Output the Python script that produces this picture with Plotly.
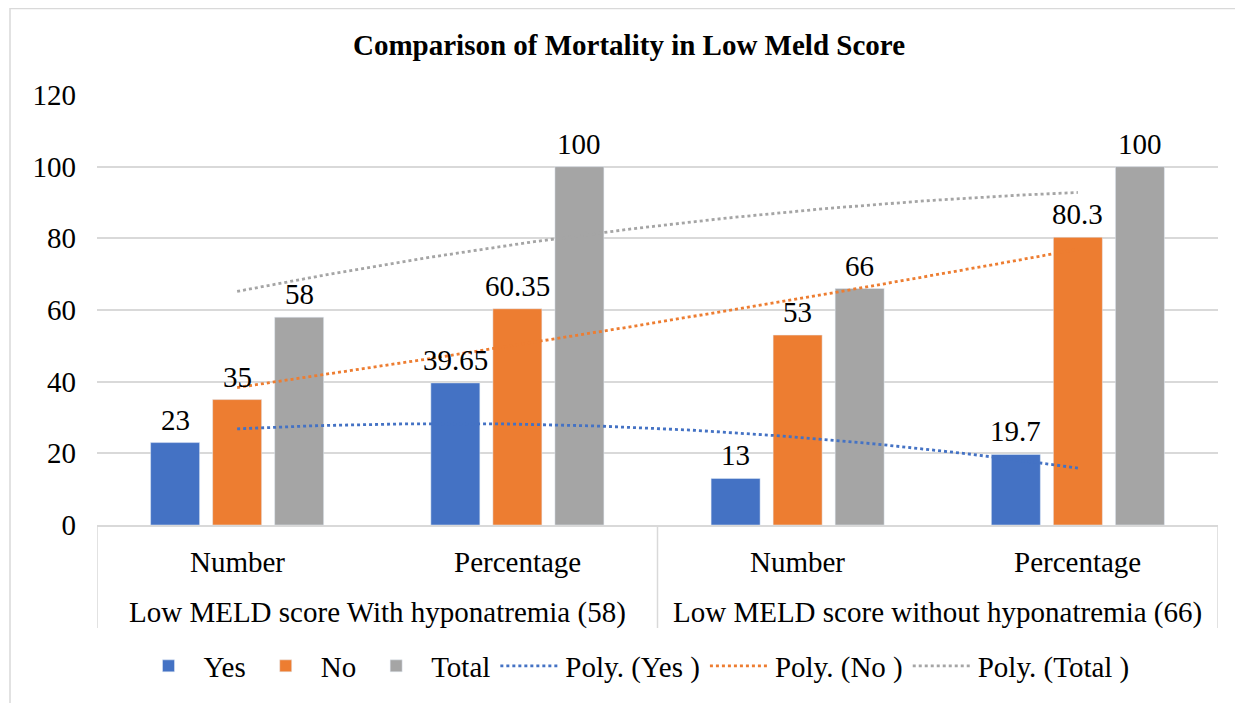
import numpy as np
import plotly.graph_objects as go

groups = ["Low MELD score With hyponatremia (58)", "Low MELD score With hyponatremia (58)",
          "Low MELD score without hyponatremia (66)", "Low MELD score without hyponatremia (66)"]
subcats = ["Number", "Percentage", "Number", "Percentage"]
yes_vals = [23, 39.65, 13, 19.7]
no_vals = [35, 60.35, 53, 80.3]
total_vals = [58, 100, 66, 100]
yes_labels = ["23", "39.65", "13", "19.7"]
no_labels = ["35", "60.35", "53", "80.3"]
total_labels = ["58", "100", "66", "100"]

colors = {"Yes": "#4472C4", "No": "#ED7D31", "Total": "#A5A5A5"}
FONT = "Liberation Serif"
FS = 29
GRID = "#D9D9D9"

# page has an 8px body margin: figure coords = page coords - 8
W, H = 1235, 695
L, R, T, B = 89, 25, 87, 178
PW, PH = W - L - R, H - T - B

def page_y_to_paper(py):
    return (PH + T - (py - 8)) / PH

series = [("Yes", yes_vals, yes_labels), ("No", no_vals, no_labels),
          ("Total", total_vals, total_labels)]

fig = go.Figure()
for name, vals, labs in series:
    fig.add_trace(go.Bar(x=[groups, subcats], y=vals, name=name, marker_color=colors[name]))

# Polynomial (order 2) trendlines like Excel, over category positions
xpos = np.arange(1, len(subcats) + 1)
xs = np.linspace(1, len(subcats), 100)
for name, vals, _ in series:
    coef = np.polyfit(xpos, vals, 2)
    fig.add_trace(go.Scatter(x=xs - 1, y=np.polyval(coef, xs), mode="lines", xaxis="x2",
                             name=f"Poly. ({name} )", hoverinfo="skip",
                             line=dict(color=colors[name], dash="dot", width=2.8)))

annotations = []
# data labels above bars
slot = 62  # px between adjacent bars in a cluster
for k, (name, vals, labs) in enumerate(series):
    for i, (v, t) in enumerate(zip(vals, labs)):
        annotations.append(dict(x=i, y=v, xref="x2", yref="y", text=t, showarrow=False,
                                xanchor="center", yanchor="bottom", xshift=(k - 1) * slot,
                                yshift=5, font=dict(family=FONT, size=FS, color="black")))
# category labels (two levels)
for i, s in enumerate(subcats):
    annotations.append(dict(x=i, y=page_y_to_paper(562), xref="x2", yref="paper", text=s,
                            showarrow=False, yanchor="middle",
                            font=dict(family=FONT, size=FS, color="black")))
uniq = list(dict.fromkeys(groups))
shapes = []
bounds = [-0.5]
for g in uniq:
    idx = [i for i, gg in enumerate(groups) if gg == g]
    annotations.append(dict(x=float(np.mean(idx)), y=page_y_to_paper(612), xref="x2",
                            yref="paper", text=g, showarrow=False, yanchor="middle",
                            font=dict(family=FONT, size=FS, color="black")))
    bounds.append(max(idx) + 0.5)
for b in bounds:
    shapes.append(dict(type="line", xref="x2", yref="paper", x0=b, x1=b, y0=0,
                       y1=page_y_to_paper(628), line=dict(color=GRID, width=1.5)))

# outer chart border
shapes.append(dict(type="rect", xref="paper", yref="paper",
                   x0=(2 - L) / PW, x1=(W + 10 - L) / PW,
                   y0=(PH + T - H - 10) / PH, y1=(PH + T - 0.5) / PH,
                   line=dict(color=GRID, width=1.5), fillcolor="rgba(0,0,0,0)", layer="below"))

fig.update_layout(
    width=W, height=H,
    paper_bgcolor="white", plot_bgcolor="white",
    font=dict(family=FONT, size=FS, color="black"),
    title=dict(text="<b>Comparison of Mortality in Low Meld Score</b>", xref="container",
               x=(629 - 8) / W, xanchor="center", y=1 - 37 / H, yanchor="middle",
               font=dict(family=FONT, size=29, color="black")),
    margin=dict(l=L, r=R, t=T, b=B, autoexpand=False),
    barmode="group", bargap=0.336, bargroupgap=0.21,
    showlegend=True,
    legend=dict(orientation="h", x=(634 - 8 - L) / PW, xanchor="center",
                y=page_y_to_paper(666), yanchor="middle",
                font=dict(family=FONT, size=FS, color="black"),
                traceorder="normal", itemwidth=60),
    xaxis=dict(type="multicategory", showgrid=False, showline=True, linecolor=GRID,
               linewidth=1.5, ticks="", showticklabels=False, showdividers=False,
               range=[-0.5, 3.5], automargin=False),
    xaxis2=dict(overlaying="x", range=[-0.5, 3.5], visible=False),
    yaxis=dict(range=[0, 120], dtick=20, showgrid=True, gridcolor=GRID, gridwidth=1.5,
               zeroline=False, showline=False, ticks="", ticklabelstandoff=20,
               tickfont=dict(family=FONT, size=FS, color="black"), automargin=False),
    annotations=annotations,
    shapes=shapes,
)

fig.write_html("out.html")
